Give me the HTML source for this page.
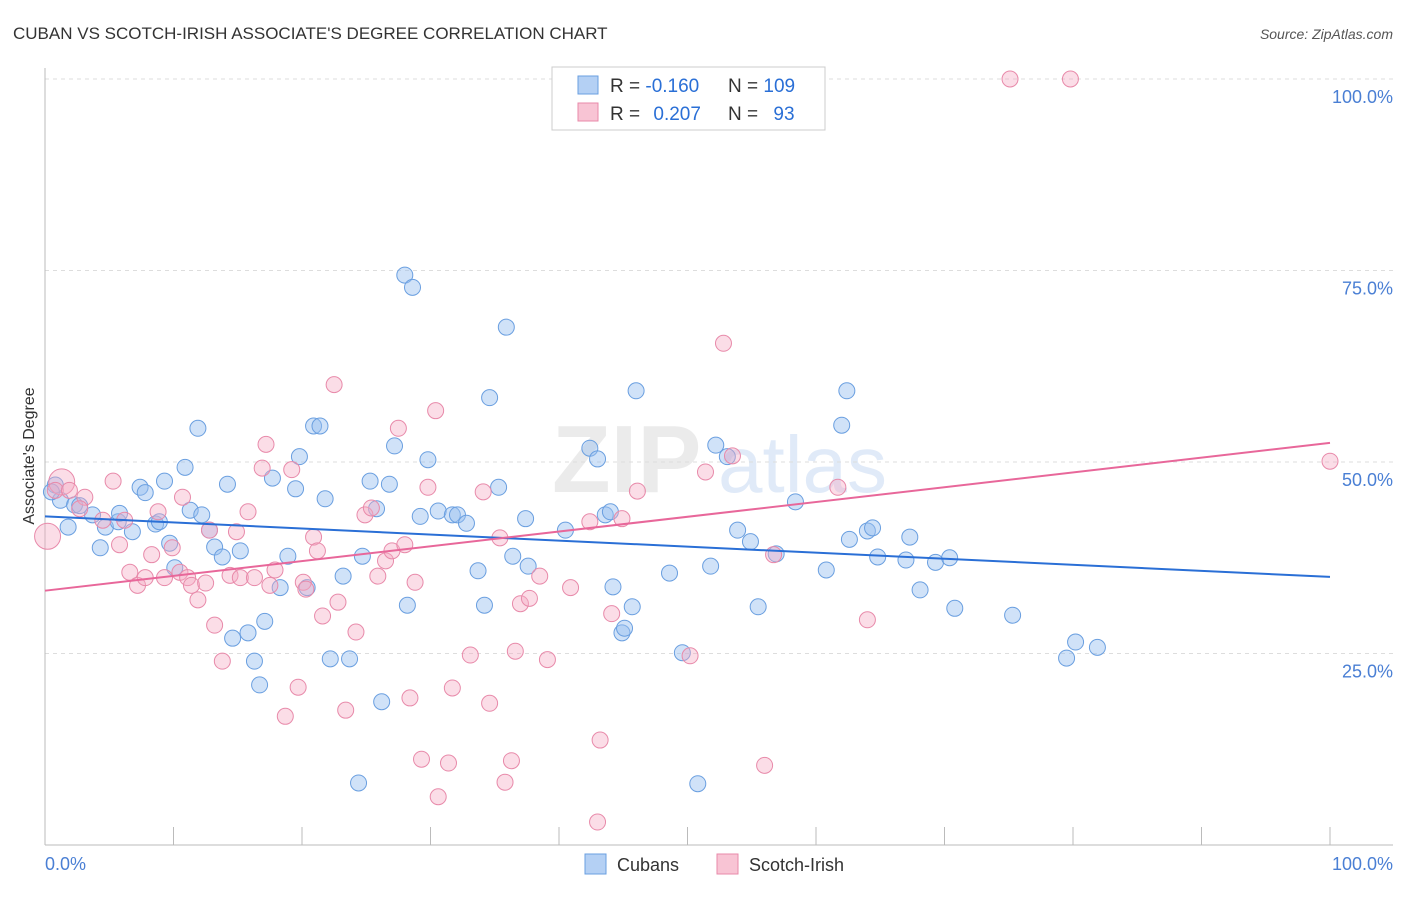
<!DOCTYPE html>
<html><head><meta charset="utf-8"><style>
body{margin:0;background:#fff;font-family:"Liberation Sans",sans-serif;}
svg text{font-family:"Liberation Sans",sans-serif;}
</style></head><body>
<svg id="chart" width="1406" height="892" xmlns="http://www.w3.org/2000/svg">
<text x="13" y="39" font-size="17" fill="#333">CUBAN VS SCOTCH-IRISH ASSOCIATE'S DEGREE CORRELATION CHART</text>
<text x="1393" y="39" font-size="14" fill="#555" font-style="italic" text-anchor="end">Source: ZipAtlas.com</text>
<g opacity="0.35">
<text x="552" y="492" font-size="96" fill="#c8c8c8" font-weight="bold">ZIP</text>
<text x="718" y="492" font-size="80" fill="#a8c4ec">atlas</text>
</g>
<g id="grid"></g>
<g id="axes"></g>
<g id="pts-blue"></g>
<g id="pts-pink"></g>
<g id="lines"></g>
<text transform="translate(34,456) rotate(-90)" font-size="16" fill="#333" text-anchor="middle">Associate's Degree</text>
<g>
<rect x="552" y="67" width="273" height="63" fill="#fff" stroke="#ccc"/>
<rect x="578" y="76" width="20" height="18" fill="#b4d0f4" stroke="#6a9fe0"/>
<rect x="578" y="103" width="20" height="18" fill="#f8c4d4" stroke="#e88aaa"/>
<text x="610" y="92" font-size="19" fill="#333">R = <tspan fill="#2a6fd6">-0.160</tspan></text>
<text x="728" y="92" font-size="19" fill="#333">N = <tspan fill="#2a6fd6">109</tspan></text>
<text x="610" y="120" font-size="19" fill="#333">R = <tspan fill="#2a6fd6" dx="8">0.207</tspan></text>
<text x="728" y="120" font-size="19" fill="#333">N = <tspan fill="#2a6fd6" dx="10">93</tspan></text>
</g>
<g>
<rect x="585" y="854" width="21" height="20" fill="#b4d0f4" stroke="#6a9fe0"/>
<text x="617" y="871" font-size="18" fill="#333">Cubans</text>
<rect x="717" y="854" width="21" height="20" fill="#f8c4d4" stroke="#e88aaa"/>
<text x="749" y="871" font-size="18" fill="#333">Scotch-Irish</text>
</g>
</svg>
<script>
const yTicks=[25,50,75,100];
const yTickLabels=["25.0%","50.0%","75.0%","100.0%"];
const xTickLabels=["0.0%","100.0%"];
const cubanX=[0.8,1.2,0.5,1.8,2.3,2.7,3.7,4.3,4.7,5.7,5.8,6.8,7.4,7.8,8.6,8.9,9.3,9.7,10.1,10.9,11.3,11.9,12.2,12.8,13.2,13.8,14.2,14.6,15.2,15.8,16.3,16.7,17.1,17.7,18.3,18.9,19.5,19.8,20.4,20.9,21.4,21.8,22.2,23.2,23.7,24.4,24.7,25.3,25.8,26.2,26.8,27.2,28.0,28.6,28.2,29.2,29.8,30.6,31.7,32.1,32.8,33.7,34.2,34.6,35.3,35.9,36.4,37.4,37.6,40.5,42.4,43.0,43.6,44.0,44.2,44.9,45.1,45.7,46.0,48.6,49.6,50.8,51.8,52.2,53.1,53.9,54.9,55.5,56.9,58.4,60.8,62.0,62.4,62.6,64.0,64.4,64.8,67.0,67.3,68.1,69.3,70.4,70.8,75.3,79.5,80.2,81.9];
const cubanY=[47.0,45.0,46.1,41.5,44.4,44.3,43.1,38.8,41.5,42.2,43.3,40.9,46.7,46.0,41.9,42.2,47.5,39.4,36.2,49.3,43.7,54.4,43.1,41.1,38.9,37.6,47.1,27.0,38.4,27.7,24.0,20.9,29.2,47.9,33.6,37.7,46.5,50.7,33.6,54.7,54.7,45.2,24.3,35.1,24.3,8.1,37.7,47.5,43.9,18.7,47.1,52.1,74.4,72.8,31.3,42.9,50.3,43.6,43.1,43.1,42.0,35.8,31.3,58.4,46.7,67.6,37.7,42.6,36.4,41.1,51.8,50.4,43.1,43.5,33.7,27.7,28.3,31.1,59.3,35.5,25.1,8.0,36.4,52.2,50.7,41.1,39.6,31.1,38.0,44.8,35.9,54.8,59.3,39.9,41.0,41.4,37.6,37.2,40.2,33.3,36.9,37.5,30.9,30.0,24.4,26.5,25.8];
const scotX=[0.2,1.3,0.8,1.9,3.1,2.7,4.5,5.3,5.8,6.2,6.6,7.2,7.8,8.3,8.8,9.3,9.9,10.5,10.7,11.1,11.4,11.9,12.5,12.8,13.2,13.8,14.4,14.9,15.2,15.8,16.3,16.9,17.2,17.5,17.9,18.7,19.2,19.7,20.1,20.3,20.9,21.2,21.6,22.8,22.5,23.4,24.2,24.9,25.4,25.9,26.5,27.0,27.5,28.0,28.4,28.8,29.3,29.8,30.4,30.6,31.4,31.7,33.1,34.1,34.6,35.4,35.8,36.3,36.6,37.0,37.7,38.5,39.1,40.9,42.4,43.2,43.0,44.1,44.9,46.1,50.2,51.4,52.8,53.5,56.0,56.7,61.7,64.0,75.1,79.8,100];
const scotY=[40.3,47.4,46.3,46.3,45.4,43.9,42.4,47.5,39.2,42.4,35.6,33.9,34.9,37.9,43.5,34.9,38.8,35.6,45.4,34.9,33.9,32.0,34.2,41.1,28.7,24.0,35.2,40.9,34.9,43.5,34.9,49.2,52.3,33.9,35.9,16.8,49.0,20.6,34.3,33.4,40.2,38.4,29.9,31.7,60.1,17.6,27.8,43.1,44.0,35.1,37.1,38.4,54.4,39.2,19.2,34.3,11.2,46.7,56.7,6.3,10.7,20.5,24.8,46.1,18.5,40.1,8.2,11.0,25.3,31.5,32.2,35.1,24.2,33.6,42.2,13.7,3.0,30.2,42.6,46.2,24.7,48.7,65.5,50.8,10.4,37.9,46.7,29.4,100,100,50.1];
const cubanTrend=[42.9,35.0];
const scotTrend=[33.2,52.5];
const NS="http://www.w3.org/2000/svg";
const X0=45,X1=1330,Y0=845,Y100=79;
const sx=v=>X0+(X1-X0)*v/100;
const sy=v=>Y0-(Y0-Y100)*v/100;
function mk(tag,attrs,parent){const e=document.createElementNS(NS,tag);for(const k in attrs)e.setAttribute(k,attrs[k]);parent.appendChild(e);return e;}
const grid=document.getElementById('grid'),axes=document.getElementById('axes');
yTicks.forEach((t,i)=>{
 const l=mk('line',{x1:45,x2:1393,y1:sy(t),y2:sy(t),stroke:'#ddd','stroke-dasharray':'4,4'},grid);
 
 
 const tx=mk('text',{x:1393,y:sy(t)+24,'font-size':18,fill:'#4a7fd4','text-anchor':'end'},axes);
 tx.textContent=yTickLabels[i];
 
 
});
const ax=mk('line',{x1:45,x2:45,y1:68,y2:845,stroke:'#bbb'},axes);


const bx=mk('line',{x1:45,x2:1393,y1:845,y2:845,stroke:'#bbb'},axes);


for(let i=0;i<=10;i++){
 const t=mk('line',{x1:sx(i*10),x2:sx(i*10),y1:827,y2:845,stroke:'#bbb'},axes);
 
 
}
const xl0=mk('text',{x:45,y:870,'font-size':18,fill:'#4a7fd4'},axes);xl0.textContent=xTickLabels[0];


const xl1=mk('text',{x:1393,y:870,'font-size':18,fill:'#4a7fd4','text-anchor':'end'},axes);xl1.textContent=xTickLabels[1];


const gb=document.getElementById('pts-blue');
cubanX.forEach((x,i)=>{
 const c=mk('circle',{cx:sx(x),cy:sy(cubanY[i]),r:8,fill:'rgba(150,190,240,0.45)',stroke:'#6a9fe0','stroke-width':1},gb);
 
 
});
const gp=document.getElementById('pts-pink');
scotX.forEach((x,i)=>{
 const big=i<2;
 const c=mk('circle',{cx:sx(x),cy:sy(scotY[i]),r:big?13:8,fill:'rgba(244,170,195,0.4)',stroke:'#e88aaa','stroke-width':1},gp);
 
 
});
const gl=document.getElementById('lines');
const l1=mk('line',{x1:sx(0),y1:sy(cubanTrend[0]),x2:sx(100),y2:sy(cubanTrend[1]),stroke:'#2a6fd6','stroke-width':2},gl);


const l2=mk('line',{x1:sx(0),y1:sy(scotTrend[0]),x2:sx(100),y2:sy(scotTrend[1]),stroke:'#e8679a','stroke-width':2},gl);


</script>
</body></html>
